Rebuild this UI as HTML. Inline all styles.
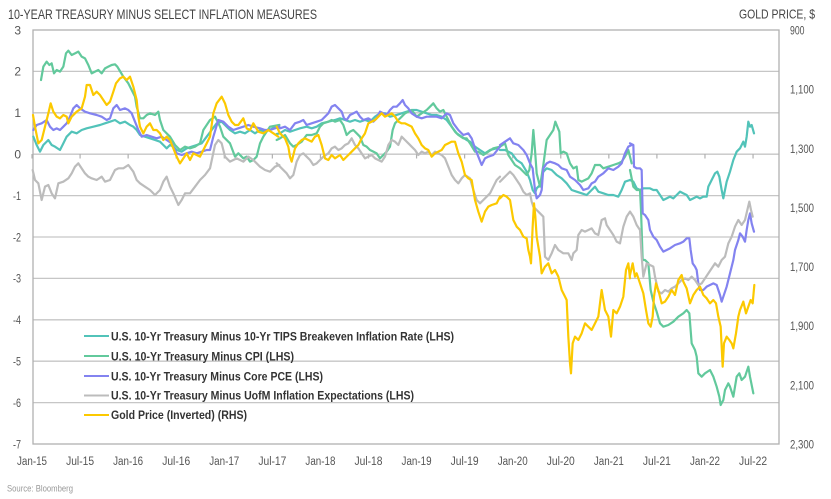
<!DOCTYPE html>
<html>
<head>
<meta charset="utf-8">
<style>
  html,body{margin:0;padding:0;background:#fff;}
  svg{display:block;}
  text{font-family:"Liberation Sans", sans-serif;}
</style>
</head>
<body>
<svg width="831" height="499" viewBox="0 0 831 499" xmlns="http://www.w3.org/2000/svg">
  <rect width="831" height="499" fill="#fff"/>

  <!-- Title -->
  <text x="8" y="19" font-size="14" fill="#444" textLength="309" lengthAdjust="spacingAndGlyphs">10-YEAR TREASURY MINUS SELECT INFLATION MEASURES</text>
  <text x="739" y="18.5" font-size="13" fill="#444" textLength="76" lengthAdjust="spacingAndGlyphs">GOLD PRICE, $</text>

  <!-- Gridlines -->
  <g stroke="#c6c6c6" stroke-width="1.3" fill="none">
    <line x1="33" y1="71.4" x2="779" y2="71.4"/>
    <line x1="33" y1="112.8" x2="779" y2="112.8"/>
    <line x1="33" y1="154.2" x2="779" y2="154.2"/>
    <line x1="33" y1="195.6" x2="779" y2="195.6"/>
    <line x1="33" y1="237" x2="779" y2="237"/>
    <line x1="33" y1="278.4" x2="779" y2="278.4"/>
    <line x1="33" y1="319.8" x2="779" y2="319.8"/>
    <line x1="33" y1="361.2" x2="779" y2="361.2"/>
    <line x1="33" y1="402.6" x2="779" y2="402.6"/>
  </g>
  <!-- Border -->
  <rect x="33" y="30" width="746" height="414" fill="none" stroke="#b0b0b0" stroke-width="1.3"/>

  <!-- zero-line ticks -->
  <g stroke="#b0b0b0" stroke-width="1.2">
    <line x1="32" y1="154" x2="32" y2="158.5"/>
    <line x1="80.07" y1="154" x2="80.07" y2="158.5"/>
    <line x1="128.14" y1="154" x2="128.14" y2="158.5"/>
    <line x1="176.21" y1="154" x2="176.21" y2="158.5"/>
    <line x1="224.28" y1="154" x2="224.28" y2="158.5"/>
    <line x1="272.35" y1="154" x2="272.35" y2="158.5"/>
    <line x1="320.42" y1="154" x2="320.42" y2="158.5"/>
    <line x1="368.49" y1="154" x2="368.49" y2="158.5"/>
    <line x1="416.56" y1="154" x2="416.56" y2="158.5"/>
    <line x1="464.63" y1="154" x2="464.63" y2="158.5"/>
    <line x1="512.7" y1="154" x2="512.7" y2="158.5"/>
    <line x1="560.77" y1="154" x2="560.77" y2="158.5"/>
    <line x1="608.84" y1="154" x2="608.84" y2="158.5"/>
    <line x1="656.91" y1="154" x2="656.91" y2="158.5"/>
    <line x1="704.98" y1="154" x2="704.98" y2="158.5"/>
    <line x1="753.05" y1="154" x2="753.05" y2="158.5"/>
  </g>

  <!-- Left axis labels -->
  <g font-size="12" fill="#555" text-anchor="end">
    <text x="21" y="34.3">3</text>
    <text x="21" y="75.7">2</text>
    <text x="21" y="117.1">1</text>
    <text x="21" y="158.5">0</text>
    <text x="21" y="199.9" textLength="8" lengthAdjust="spacingAndGlyphs">-1</text>
    <text x="21" y="241.3" textLength="8" lengthAdjust="spacingAndGlyphs">-2</text>
    <text x="21" y="282.7" textLength="8" lengthAdjust="spacingAndGlyphs">-3</text>
    <text x="21" y="324.1" textLength="8" lengthAdjust="spacingAndGlyphs">-4</text>
    <text x="21" y="365.5" textLength="8" lengthAdjust="spacingAndGlyphs">-5</text>
    <text x="21" y="406.9" textLength="8" lengthAdjust="spacingAndGlyphs">-6</text>
    <text x="21" y="448.3" textLength="8" lengthAdjust="spacingAndGlyphs">-7</text>
  </g>

  <!-- Right axis labels -->
  <g font-size="11.5" fill="#555">
    <text x="790" y="34.6" textLength="14.5" lengthAdjust="spacingAndGlyphs">900</text>
    <text x="790" y="93.7" textLength="24" lengthAdjust="spacingAndGlyphs">1,100</text>
    <text x="790" y="152.8" textLength="24" lengthAdjust="spacingAndGlyphs">1,300</text>
    <text x="790" y="211.9" textLength="24" lengthAdjust="spacingAndGlyphs">1,500</text>
    <text x="790" y="271.1" textLength="24" lengthAdjust="spacingAndGlyphs">1,700</text>
    <text x="790" y="330.2" textLength="24" lengthAdjust="spacingAndGlyphs">1,900</text>
    <text x="790" y="389.3" textLength="24" lengthAdjust="spacingAndGlyphs">2,100</text>
    <text x="790" y="448.5" textLength="24" lengthAdjust="spacingAndGlyphs">2,300</text>
  </g>

  <!-- X axis labels -->
  <g font-size="11.5" fill="#555" text-anchor="middle">
    <text x="32" y="465" textLength="30" lengthAdjust="spacingAndGlyphs">Jan-15</text>
    <text x="80.07" y="465" textLength="28" lengthAdjust="spacingAndGlyphs">Jul-15</text>
    <text x="128.14" y="465" textLength="30" lengthAdjust="spacingAndGlyphs">Jan-16</text>
    <text x="176.21" y="465" textLength="28" lengthAdjust="spacingAndGlyphs">Jul-16</text>
    <text x="224.28" y="465" textLength="30" lengthAdjust="spacingAndGlyphs">Jan-17</text>
    <text x="272.35" y="465" textLength="28" lengthAdjust="spacingAndGlyphs">Jul-17</text>
    <text x="320.42" y="465" textLength="30" lengthAdjust="spacingAndGlyphs">Jan-18</text>
    <text x="368.49" y="465" textLength="28" lengthAdjust="spacingAndGlyphs">Jul-18</text>
    <text x="416.56" y="465" textLength="30" lengthAdjust="spacingAndGlyphs">Jan-19</text>
    <text x="464.63" y="465" textLength="28" lengthAdjust="spacingAndGlyphs">Jul-19</text>
    <text x="512.7" y="465" textLength="30" lengthAdjust="spacingAndGlyphs">Jan-20</text>
    <text x="560.77" y="465" textLength="28" lengthAdjust="spacingAndGlyphs">Jul-20</text>
    <text x="608.84" y="465" textLength="30" lengthAdjust="spacingAndGlyphs">Jan-21</text>
    <text x="656.91" y="465" textLength="28" lengthAdjust="spacingAndGlyphs">Jul-21</text>
    <text x="704.98" y="465" textLength="30" lengthAdjust="spacingAndGlyphs">Jan-22</text>
    <text x="753.05" y="465" textLength="28" lengthAdjust="spacingAndGlyphs">Jul-22</text>
  </g>

  <!-- ===== SERIES ===== -->
  <g fill="none" stroke-width="2.2" stroke-linejoin="round" stroke-linecap="round">
    <!-- TIPS breakeven (teal) -->
    <g stroke="#52c3b9">
      <polyline vector-effect="non-scaling-stroke" transform="translate(30,30) scale(0.333333)" points="10,320 20,345 30,365 40,345 55,330 65,345 75,350 90,360 100,340 110,320 125,305 140,310 155,300 170,295 190,290 210,285 225,280 240,275 255,270 270,280 285,275 300,285 310,290 320,300 330,315 345,320 360,325 375,330 390,335 400,345 410,355 420,345 430,350 440,360 455,365 470,355 485,350 500,345 515,340 530,320 545,300 560,280 575,275 590,290 600,300 615,310 630,305 645,310 660,300 675,310 690,300 705,305 720,300 735,290 748,285"/>
      <polyline vector-effect="non-scaling-stroke" transform="translate(270,80) scale(0.333333)" points="20,162 30,160 45,150 60,155 75,150 90,145 110,140 125,145 140,140 155,130 175,125 195,120 210,115 225,120 240,125 255,120 270,125 285,120 300,125 315,110 330,100 345,100 360,110 380,105 395,100 410,95 425,90 440,90 455,95 470,100 485,105 500,105 515,110 530,120 545,140 560,160 575,170 590,180 600,185 615,200 630,210 645,220 660,210 680,205 690,200"/>
      <polyline vector-effect="non-scaling-stroke" transform="translate(470,110) scale(0.333333)" points="90,120 105,120 115,125 125,130 140,150 155,160 170,185 180,210 188,240 195,250 200,235 210,225 220,185 230,175 245,180 260,195 275,205 290,220 305,240 320,245 335,250 350,255 365,240 375,230 385,245 400,250 415,255 430,255 445,260 455,240 465,215 480,210"/>
      <polyline vector-effect="non-scaling-stroke" transform="translate(630,110) scale(0.333333)" points="0,210 10,215 20,235 30,240 40,235 50,235 60,235 70,240 80,240 90,255 100,270 110,265 120,260 130,265 140,255 150,245 160,250 170,255 180,270 190,265 200,260 210,265 220,260 230,260 235,230 245,210 255,190 262,185 268,200 275,240 280,265 285,240 290,215 300,185 310,150 320,125 330,115 340,95 345,110 350,80 355,35 360,50 365,45 372,70"/>
    </g>
    <!-- CPI (green) -->
    <g stroke="#62c99c">
      <polyline vector-effect="non-scaling-stroke" transform="translate(30,30) scale(0.333333)" points="33,150 40,110 50,95 58,105 65,100 72,130 80,120 90,125 100,110 108,70 115,62 125,75 135,70 145,65 155,80 165,85 175,105 185,130 195,125 205,120 215,130 225,115 235,110 245,105 255,103 262,110 268,120 280,140 295,160 305,180 315,200 320,230 330,265 340,265 350,255 360,250 375,255 385,245 390,270 400,300 420,320 435,345 450,360 465,350 480,355 495,350 510,340 520,300 540,270 555,260 570,290 580,320 600,340 615,380 625,370 640,385 650,380 660,395 670,390 680,380 690,340 700,320 720,290 748,285"/>
      <polyline vector-effect="non-scaling-stroke" transform="translate(270,80) scale(0.333333)" points="20,180 30,175 45,165 60,190 70,200 80,195 95,185 110,165 125,165 140,160 150,140 160,130 175,125 185,120 195,125 210,120 220,135 230,165 240,155 250,150 260,160 270,170 280,195 290,200 300,210 310,215 320,220 330,235 340,225 350,215 360,200 368,150 375,130 385,120 395,110 405,100 415,95 425,90 440,110 455,100 470,90 480,80 490,70 500,85 510,95 520,90 530,110 545,140 555,155 565,165 580,175 590,175 600,190 615,215 625,215 640,225 655,215 670,205 690,200"/>
      <polyline vector-effect="non-scaling-stroke" transform="translate(470,110) scale(0.333333)" points="90,110 105,100 115,135 125,150 135,165 150,175 170,195 178,180 185,130 190,60 195,120 200,190 210,230 220,165 230,90 240,75 250,60 256,35 262,50 268,65 272,130 280,125 290,130 300,160 310,175 320,170 325,210 335,215 345,210 355,205 365,190 375,165 390,165 400,175 415,170 430,165 445,160 455,155 465,140 475,120 485,160"/>
      <polyline vector-effect="non-scaling-stroke" transform="translate(630,110) scale(0.333333)" points="0,180 10,230 20,240 30,240 33,300 38,450 45,450 55,460 62,540 70,575 80,605 90,640 100,650 115,645 130,635 145,620 160,610 170,600 178,610 185,700 195,720 200,740 205,790 215,800 225,790 240,780 250,800 260,830 268,860 272,885 280,870 285,840 295,820 300,830 310,860 320,800 328,790 335,810 345,800 355,770 360,800 370,850"/>
    </g>
    <!-- Core PCE (purple) -->
    <g stroke="#8383f0">
      <polyline vector-effect="non-scaling-stroke" transform="translate(30,30) scale(0.333333)" points="10,300 20,285 35,280 50,270 60,290 70,300 80,295 90,300 100,290 110,280 120,260 130,235 140,225 150,235 165,245 180,250 200,255 215,260 230,270 240,265 250,235 260,225 270,240 285,235 295,240 305,250 315,275 325,300 335,320 350,315 365,320 380,325 395,320 410,330 425,340 440,370 455,375 470,370 485,365 500,370 515,365 530,360 540,360 550,320 565,270 580,275 595,290 610,300 625,295 640,290 655,285 670,290 690,295 705,300 720,300 735,295 748,290"/>
      <polyline vector-effect="non-scaling-stroke" transform="translate(270,80) scale(0.333333)" points="20,140 30,145 45,140 60,150 75,130 90,125 100,120 110,135 125,130 140,125 155,120 165,110 175,100 185,80 195,75 205,85 215,95 222,115 230,120 240,105 250,100 260,95 270,110 280,120 295,115 310,125 320,115 330,95 340,100 350,105 360,90 370,80 380,80 390,70 398,60 405,75 415,85 425,100 440,110 455,115 470,110 485,110 500,110 515,115 530,100 540,105 550,130 565,150 580,165 595,160 605,175 615,205 625,230 635,255 645,235 655,230 670,225 690,200"/>
      <polyline vector-effect="non-scaling-stroke" transform="translate(470,110) scale(0.333333)" points="90,105 105,95 120,85 130,100 145,105 160,120 170,135 180,160 188,175 195,240 200,265 210,255 215,240 220,175 230,160 240,155 255,160 265,165 275,175 290,180 300,200 315,210 330,225 340,240 355,235 365,220 375,215 385,200 400,190 415,175 430,180 445,170 455,160 465,130 475,110 485,105"/>
      <polyline vector-effect="non-scaling-stroke" transform="translate(630,110) scale(0.333333)" points="0,100 10,105 12,170 20,175 30,175 35,180 38,310 45,315 55,330 60,360 70,380 80,390 90,410 100,425 110,420 120,415 135,405 150,400 160,395 170,385 178,385 182,420 188,460 195,470 200,480 205,520 210,540 220,540 230,530 240,525 250,520 260,525 270,555 275,575 280,560 290,530 300,490 310,450 315,420 325,390 330,370 338,380 345,395 350,360 355,330 360,310 365,340 372,365"/>
    </g>
    <!-- UofM (gray) -->
    <g stroke="#bcbcbc">
      <polyline vector-effect="non-scaling-stroke" transform="translate(30,30) scale(0.333333)" points="8,420 15,450 25,460 35,510 45,470 55,465 65,490 75,505 85,460 100,455 115,445 125,430 135,410 145,400 155,415 165,430 175,440 185,445 200,450 215,440 225,455 240,450 255,420 265,415 280,415 295,405 310,425 320,450 330,460 345,470 360,480 375,495 390,480 400,455 410,440 420,470 430,490 445,525 455,510 465,490 480,490 495,470 510,450 525,435 540,415 555,345 565,330 575,340 585,380 600,395 620,385 640,395 655,380 670,390 690,410 705,420 720,425 735,410 748,405"/>
      <polyline vector-effect="non-scaling-stroke" transform="translate(270,80) scale(0.333333)" points="20,250 35,265 50,280 60,295 70,285 80,245 90,225 100,220 110,230 120,240 130,255 140,250 150,240 160,230 175,220 185,205 195,200 205,210 215,205 225,195 235,190 245,175 255,195 265,205 275,220 285,235 295,230 305,225 315,235 325,240 335,245 345,230 355,195 365,180 375,185 385,195 395,170 405,180 415,190 425,200 435,210 445,225 455,215 465,220 475,215 485,225 495,215 505,220 515,225 525,235 535,260 545,285 555,300 565,310 575,295 585,285 600,295 610,330 620,360 630,370 640,360 650,350 660,340 670,320 680,300 690,290"/>
      <polyline vector-effect="non-scaling-stroke" transform="translate(470,110) scale(0.333333)" points="90,215 100,205 110,195 120,185 130,195 140,210 150,225 160,245 170,255 180,250 185,275 190,290 200,300 210,310 220,320 225,440 235,450 245,430 255,405 265,420 280,430 295,430 305,450 310,430 320,420 325,375 335,360 345,365 355,360 365,355 375,370 385,375 395,330 405,325 410,345 420,360 430,375 440,395 450,400 460,350 470,320 480,305"/>
      <polyline vector-effect="non-scaling-stroke" transform="translate(630,110) scale(0.333333)" points="0,305 10,320 20,345 30,360 35,440 40,500 50,460 60,465 70,470 75,500 85,545 95,550 105,540 115,545 125,535 135,530 145,520 155,510 165,505 175,510 185,500 195,510 205,525 215,520 225,505 235,490 245,475 255,460 265,470 275,450 285,440 295,400 305,380 315,350 325,330 335,345 345,330 352,300 358,275 363,300 368,320"/>
    </g>
    <!-- Gold (yellow) -->
    <g stroke="#fcc900">
      <polyline vector-effect="non-scaling-stroke" transform="translate(30,30) scale(0.333333)" points="9,255 15,290 25,340 35,330 45,290 55,250 62,220 70,245 80,260 90,265 100,255 110,260 115,280 125,260 140,245 155,235 165,200 170,165 180,165 190,195 200,185 210,195 220,210 230,225 240,215 250,185 258,160 270,145 280,140 290,150 300,140 310,170 320,210 325,260 330,290 340,310 350,290 360,280 370,300 380,300 390,310 400,330 410,320 420,330 430,355 440,380 450,400 460,385 470,370 480,390 490,370 500,375 510,380 520,360 530,340 540,320 550,250 560,220 575,200 585,220 595,255 605,275 615,285 625,285 640,265 650,295 660,300 670,280 685,305 700,310 715,300 730,310 745,320"/>
      <polyline vector-effect="non-scaling-stroke" transform="translate(270,80) scale(0.333333)" points="20,140 30,160 45,175 55,200 60,230 65,245 75,205 85,190 95,180 105,175 115,180 125,185 135,170 145,165 155,195 165,235 175,240 185,225 195,235 210,225 220,240 235,225 245,215 255,205 265,195 275,175 285,160 295,130 305,125 315,120 325,110 335,100 345,110 355,105 365,100 375,110 385,125 395,130 405,130 415,135 425,140 435,160 445,175 455,195 465,205 475,210 485,230 495,220 505,215 515,210 525,195 535,190 545,185 555,185 565,220 575,245 585,285 595,295 605,300 615,360 625,395 635,425 645,395 655,380 665,375 680,370 690,350"/>
      <polyline vector-effect="non-scaling-stroke" transform="translate(470,110) scale(0.333333)" points="90,265 100,255 110,260 120,270 130,330 140,350 150,360 160,380 170,385 175,420 180,440 183,460 188,350 192,280 196,320 200,380 210,440 215,490 225,470 235,460 245,490 255,480 265,500 275,540 285,560 290,570 295,680 300,760 303,790 308,700 315,680 325,690 335,670 345,640 355,650 365,660 375,640 385,620 395,540 405,600 415,620 423,680 430,600 440,610 450,590 460,560 468,480 475,460 480,505"/>
      <polyline vector-effect="non-scaling-stroke" transform="translate(630,110) scale(0.333333)" points="0,495 8,460 15,500 20,490 30,520 40,550 48,600 55,640 62,650 68,620 72,560 78,520 85,540 95,580 105,575 115,560 125,540 135,555 145,510 155,495 160,515 170,535 180,580 190,555 200,540 210,530 220,555 230,565 240,580 250,570 258,580 265,620 272,650 278,770 282,700 290,680 298,690 305,700 310,715 318,670 325,620 330,600 340,575 348,610 355,590 362,570 368,580 373,525"/>
    </g>
  </g>

  <!-- Legend -->
  <g stroke-width="2">
    <line x1="84" y1="336" x2="109" y2="336" stroke="#52c3b9"/>
    <line x1="84" y1="356" x2="109" y2="356" stroke="#62c99c"/>
    <line x1="84" y1="376" x2="109" y2="376" stroke="#8383f0"/>
    <line x1="84" y1="395.5" x2="109" y2="395.5" stroke="#bcbcbc"/>
    <line x1="84" y1="415" x2="109" y2="415" stroke="#fcc900"/>
  </g>
  <g font-size="12" font-weight="bold" fill="#333">
    <text x="111" y="340.4" textLength="343" lengthAdjust="spacingAndGlyphs">U.S. 10-Yr Treasury Minus 10-Yr TIPS Breakeven Inflation Rate (LHS)</text>
    <text x="111" y="360.4" textLength="183" lengthAdjust="spacingAndGlyphs">U.S. 10-Yr Treasury Minus CPI (LHS)</text>
    <text x="111" y="380.4" textLength="212" lengthAdjust="spacingAndGlyphs">U.S. 10-Yr Treasury Minus Core PCE (LHS)</text>
    <text x="111" y="399.6" textLength="303" lengthAdjust="spacingAndGlyphs">U.S. 10-Yr Treasury Minus UofM Inflation Expectations (LHS)</text>
    <text x="111" y="419.2" textLength="136" lengthAdjust="spacingAndGlyphs">Gold Price (Inverted) (RHS)</text>
  </g>

  <!-- Source -->
  <text x="7" y="491.5" font-size="9.5" fill="#999" textLength="66" lengthAdjust="spacingAndGlyphs">Source: Bloomberg</text>
</svg>
</body>
</html>
